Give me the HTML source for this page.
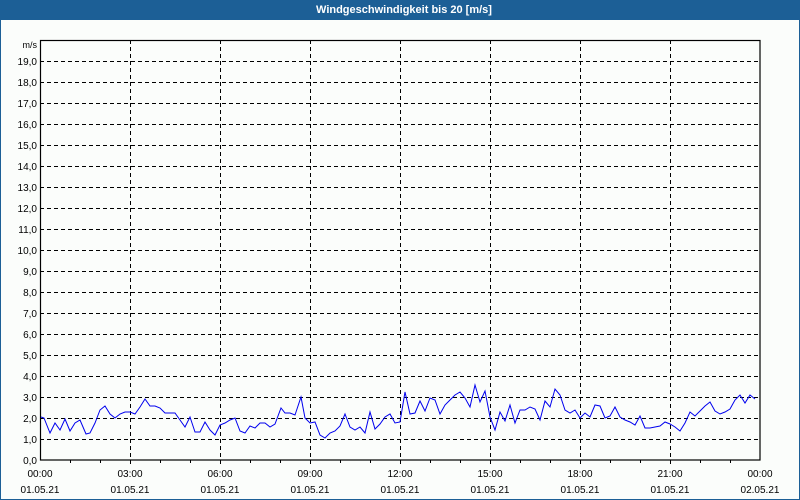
<!DOCTYPE html>
<html><head><meta charset="utf-8"><style>
html,body{margin:0;padding:0;background:#fbfdfb;}
svg{display:block;font-family:"Liberation Sans","DejaVu Sans",sans-serif;}
</style></head><body>
<svg width="800" height="500" xmlns="http://www.w3.org/2000/svg">
<rect x="0" y="0" width="800" height="500" fill="#fbfdfb"/>
<rect x="0.5" y="0.5" width="799" height="499" fill="none" stroke="#1c5f96" stroke-width="1"/>
<rect x="0" y="0" width="800" height="20" fill="#1c5f96"/>
<text x="404" y="13" fill="#fff" font-size="11" font-weight="bold" text-anchor="middle">Windgeschwindigkeit bis 20 [m/s]</text>
<g stroke="#000" stroke-width="1" stroke-dasharray="4,3" fill="none">
<path d="M40 61.5H760M40 82.5H760M40 103.5H760M40 124.5H760M40 145.5H760M40 166.5H760M40 187.5H760M40 208.5H760M40 229.5H760M40 250.5H760M40 271.5H760M40 292.5H760M40 313.5H760M40 334.5H760M40 355.5H760M40 376.5H760M40 397.5H760M40 418.5H760M40 439.5H760"/>
<path d="M130.5 40V460M220.5 40V460M310.5 40V460M400.5 40V460M490.5 40V460M580.5 40V460M670.5 40V460"/>
</g>
<rect x="40.5" y="40.5" width="719.5" height="419.5" fill="none" stroke="#000" stroke-width="1.2"/>
<path stroke="#000" stroke-width="1" d="M70.5 460v3M100.5 460v3M130.5 460v4M160.5 460v3M190.5 460v3M220.5 460v4M250.5 460v3M280.5 460v3M310.5 460v4M340.5 460v3M370.5 460v3M400.5 460v4M430.5 460v3M460.5 460v3M490.5 460v4M520.5 460v3M550.5 460v3M580.5 460v4M610.5 460v3M640.5 460v3M670.5 460v4M700.5 460v3M730.5 460v3"/>
<g font-size="10" fill="#000" text-anchor="end">
<text x="37" y="48" font-size="9">m/s</text>
<text x="37" y="65">19,0</text><text x="37" y="86">18,0</text><text x="37" y="107">17,0</text><text x="37" y="128">16,0</text><text x="37" y="149">15,0</text><text x="37" y="170">14,0</text><text x="37" y="191">13,0</text><text x="37" y="212">12,0</text><text x="37" y="233">11,0</text><text x="37" y="254">10,0</text><text x="37" y="275">9,0</text><text x="37" y="296">8,0</text><text x="37" y="317">7,0</text><text x="37" y="338">6,0</text><text x="37" y="359">5,0</text><text x="37" y="380">4,0</text><text x="37" y="401">3,0</text><text x="37" y="422">2,0</text><text x="37" y="443">1,0</text><text x="37" y="464">0,0</text>
</g>
<g font-size="10" fill="#000" text-anchor="middle">
<text x="40" y="477">00:00</text><text x="130" y="477">03:00</text><text x="220" y="477">06:00</text><text x="310" y="477">09:00</text><text x="400" y="477">12:00</text><text x="490" y="477">15:00</text><text x="580" y="477">18:00</text><text x="670" y="477">21:00</text><text x="760" y="477">00:00</text>
<text x="40" y="493">01.05.21</text><text x="130" y="493">01.05.21</text><text x="220" y="493">01.05.21</text><text x="310" y="493">01.05.21</text><text x="400" y="493">01.05.21</text><text x="490" y="493">01.05.21</text><text x="580" y="493">01.05.21</text><text x="670" y="493">01.05.21</text><text x="760" y="493">02.05.21</text>
</g>
<polyline fill="none" stroke="#0000ee" stroke-width="1" points="41,417 44,418 50,433 55,423 60,430 65,419 70,431 75,423 80,420 86,434 90,433 95,423 100,410 105,406 110,414 115,418 120,414 125,412 130,412 135,414 140,407 145,399 150,406 155,406 160,408 165,413 170,413 175,413 180,420 185,427 190,417 195,432 200,432 205,422 210,430 215,435 220,425 225,423 230,420 235,418 240,431 245,433 250,426 255,428 260,423 265,423 270,427 275,424 281,408 285,413 290,413 295,415 301,397 305,418 310,423 315,422 320,435 325,438 330,433 335,431 340,426 345,414 350,427 355,430 360,427 365,433 370,412 375,429 380,424 385,417 390,414 395,423 400,422 405,392 410,414 415,413 420,401 425,411 430,398 435,400 440,414 445,405 450,400 455,395 460,392 465,398 470,407 475,385 480,402 485,391 490,417 495,430 500,412 505,421 510,405 515,423 520,410 525,410 530,407 535,409 540,420 545,401 550,407 555,389 560,395 565,410 570,413 575,410 580,418 585,413 590,417 595,405 600,406 605,418 610,416 615,407 620,417 625,420 630,422 635,425 640,416 645,428 650,428 655,427 660,426 665,422 670,424 675,427 680,431 685,423 690,412 695,416 700,411 705,406 710,402 715,411 720,414 725,412 730,409 735,400 740,395 745,403 750,395 755,399"/>
</svg>
</body></html>
